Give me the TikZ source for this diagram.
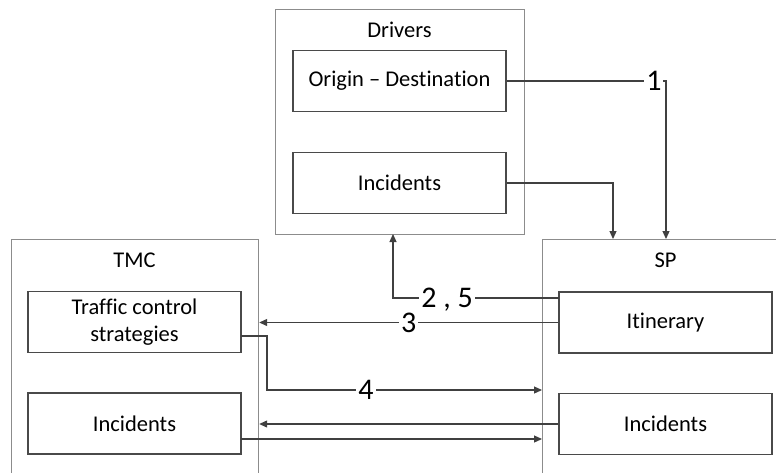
\documentclass[tikz,border=0pt]{standalone}
\usepackage{fontspec}
\setmainfont{Carlito}[Ligatures={NoCommon,NoContextual}]
\usetikzlibrary{arrows.meta}
\definecolor{outerline}{HTML}{8C8C8C}
\definecolor{innerline}{HTML}{4A4A4A}
\definecolor{wire}{HTML}{404040}
\begin{document}
\begin{tikzpicture}[x=1pt,y=-1pt,
  panel/.style={draw=outerline, line width=1.2pt, rectangle, anchor=north west, inner sep=0pt},
  item/.style={draw=innerline, line width=1.2pt, rectangle, minimum width=213pt, minimum height=61pt,
    inner sep=0pt, align=center, font=\fontsize{22.5}{27}\selectfont},
  paneltitle/.style={inner sep=0pt, font=\fontsize{22.5}{27}\selectfont},
  conn/.style={draw=wire, line width=1.2pt, -{Triangle[length=8pt,width=7pt]}},
  num/.style={fill=white, inner sep=2pt, text depth=0pt, font=\fontsize{30}{36}\selectfont}]
\useasboundingbox (0,0) rectangle (776,472);
\begin{scope}
\clip (0,0) rectangle (776,472);

% outer panels
\node[panel, minimum width=249pt, minimum height=225pt] (drv) at (275,9) {};
\node[panel, minimum width=247pt, minimum height=260pt] (tmc) at (11,239) {};
\node[panel, minimum width=247pt, minimum height=260pt] (sp) at (542,239) {};

% panel titles
\node[paneltitle] (drvtitle) at (399.5,29.5) {Drivers};
\node[paneltitle] (tmctitle) at (134.5,260) {TMC};
\node[paneltitle] (sptitle) at (665.5,260) {SP};

% inner items
\node[item] (od) at (399.5,81) {Origin -- Destination};
\node[item] (incd) at (399.5,183) {Incidents};
\node[item] (tcs) at (134.5,322) {Traffic control\\strategies};
\node[item] (inct) at (134.5,423.5) {Incidents};
\node[item] (itin) at (665.5,322.5) {Itinerary};
\node[item] (incsp) at (665.5,424) {Incidents};

% connector end points
\coordinate (c1) at (666,239);
\coordinate (c2) at (613,239);
\coordinate (a25) at (559,298);
\coordinate (b25) at (393,234);
\coordinate (a4) at (241,336);
\coordinate (k4) at (267,336);
\coordinate (b4) at (542,390);
\coordinate (a7) at (241,439);
\coordinate (b7) at (542,439);

% connectors
\draw[conn] (od.east) -| node[num, pos=0.462] (l1) {1} (c1);
\draw[conn] (incd.east) -| (c2);
\draw[conn] (a25) -| node[num, pos=0.337] (l25) {2 , 5} (b25);
\draw[conn] (itin.west) -- node[num, pos=0.5] (l3) {3} (tmc.east |- itin.west);
\draw[conn] (a4) -- (k4) |- node[num, pos=0.68] (l4) {4} (b4);
\draw[conn] (incsp.west) -- (tmc.east |- incsp.west);
\draw[conn] (a7) -- (b7);
\end{scope}
\end{tikzpicture}
\end{document}
